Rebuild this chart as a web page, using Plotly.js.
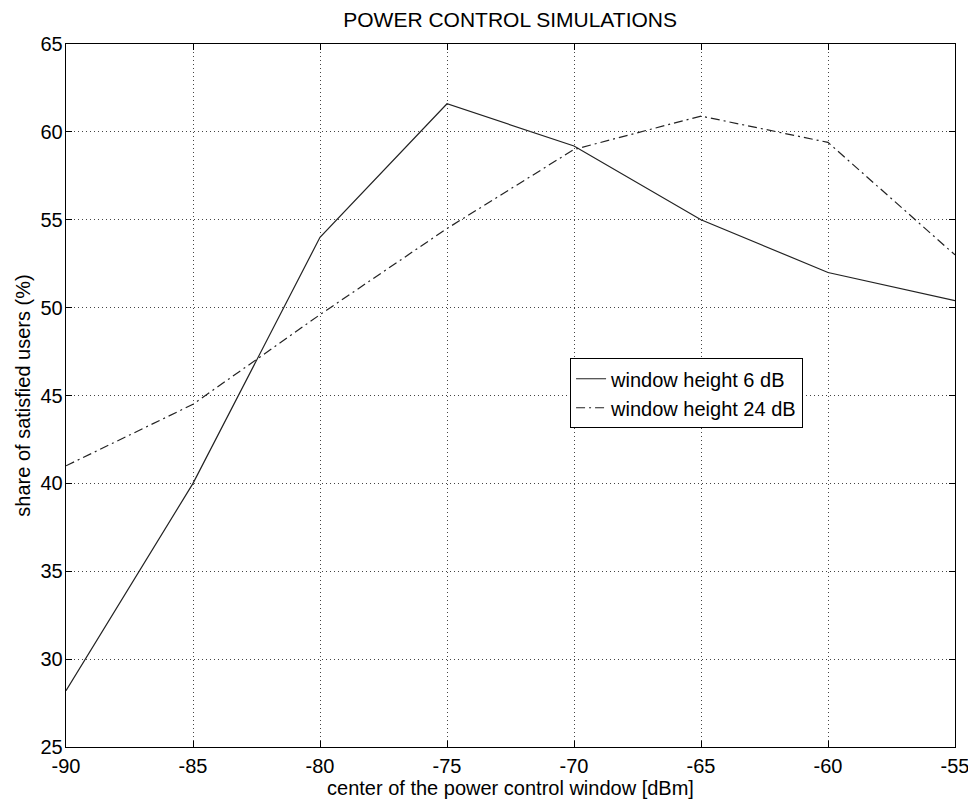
<!DOCTYPE html>
<html>
<head>
<meta charset="utf-8">
<script src="https://cdn.plot.ly/plotly-3.0.1.min.js"></script>
<style>html,body{margin:0;padding:0;background:#fff;}#chart{width:968px;height:800px;}</style>
</head>
<body>
<div id="chart"></div>
<script>
const centers = [-90, -85, -80, -75, -70, -65, -60, -55];
const share6dB = [28.2, 40.0, 54.0, 61.6, 59.2, 55.0, 52.0, 50.4];
const share24dB = [41.0, 44.5, 49.6, 54.5, 59.0, 60.9, 59.4, 53.0];
const seriesNames = ["window height 6 dB", "window height 24 dB"];
const xTicks = [-90, -85, -80, -75, -70, -65, -60, -55];
const yTicks = [25, 30, 35, 40, 45, 50, 55, 60, 65];

const fontFam = "Liberation Sans, Arial, sans-serif";

const traces = [
  {x: centers, y: share6dB, name: seriesNames[0], mode: "lines", type: "scatter",
   line: {color: "#222", width: 1.2, dash: "solid"}},
  {x: centers, y: share24dB, name: seriesNames[1], mode: "lines", type: "scatter",
   line: {color: "#222", width: 1.2, dash: "9px,4px,2px,4px"}}
];

const axisCommon = {
  showline: true, linecolor: "#000", linewidth: 1.3, mirror: "ticks",
  ticks: "inside", ticklen: 6, tickcolor: "#000", tickwidth: 1,
  showgrid: true, gridcolor: "#444", griddash: "1px,3px", gridwidth: 1,
  zeroline: false, ticklabeloverflow: "allow",
  tickfont: {family: fontFam, size: 20, color: "#000"}
};

const layout = {
  width: 968, height: 800,
  margin: {l: 66, r: 13, t: 44, b: 53},
  paper_bgcolor: "#fff", plot_bgcolor: "#fff",
  title: {text: "POWER CONTROL SIMULATIONS", font: {family: fontFam, size: 21, color: "#000"},
          x: 0.527, xanchor: "center", y: 0.975, yanchor: "middle"},
  xaxis: Object.assign({}, axisCommon, {
    range: [-90, -55], tickvals: xTicks, ticktext: xTicks.map(String), ticklabelstandoff: 1,
    title: {text: "center of the power control window [dBm]", font: {family: fontFam, size: 20, color: "#000"}, standoff: 0}
  }),
  yaxis: Object.assign({}, axisCommon, {
    range: [25, 65], tickvals: yTicks, ticktext: yTicks.map(String), ticklabelstandoff: -2,
    title: {text: "share of satisfied users (%)", font: {family: fontFam, size: 20, color: "#000"}, standoff: 4}
  }),
  legend: {x: 0.567, y: 0.553, xanchor: "left", yanchor: "top",
           bgcolor: "#fff", bordercolor: "#000", borderwidth: 1,
           font: {family: fontFam, size: 20, color: "#000"}, tracegroupgap: 0},
  showlegend: true
};

Plotly.newPlot("chart", traces, layout, {displayModeBar: false, staticPlot: true});
</script>
</body>
</html>
